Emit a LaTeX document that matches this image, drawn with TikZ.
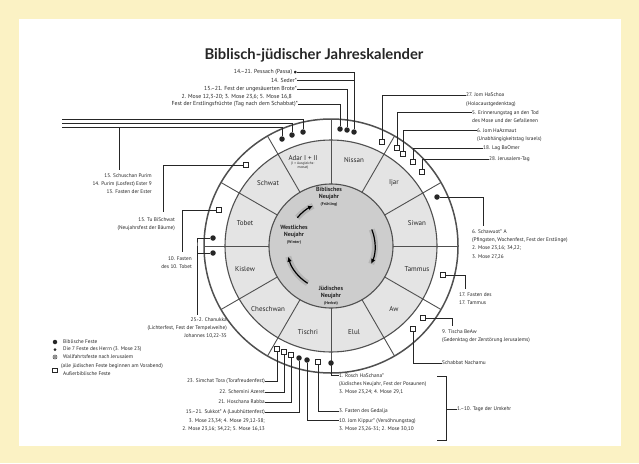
\documentclass[tikz,border=0pt]{standalone}
\usepackage{fontspec}
\setmainfont{PT Sans}
\newfontfamily\titlefont{Lato}
\newfontfamily\symfont{DejaVu Sans}
\usetikzlibrary{arrows.meta, positioning, calc}
\definecolor{paper}{HTML}{FBF2C4}
\definecolor{ink}{HTML}{262626}
\definecolor{ringline}{HTML}{505050}
\definecolor{monthfill}{HTML}{E4E4E4}
\definecolor{hubfill}{HTML}{CDCDCD}

\begin{document}
\begin{tikzpicture}[x=1pt, y=-1pt,
        lbl/.style={font=\fontsize{5.3}{8.2}\selectfont, text=ink, inner sep=0pt, align=left},
        lblr/.style={lbl, align=right},
        toplbl/.style={lblr, font=\fontsize{5.8}{8}\selectfont},
        month/.style={font=\fontsize{7}{8}\selectfont, text=ink, inner sep=0pt},
        hub/.style={font=\fontsize{6}{6.8}\selectfont\bfseries, text=ink, align=center, inner sep=0pt},
        feast/.style={circle, fill=ink, inner sep=0pt, minimum size=5.5pt},
        smallfeast/.style={circle, fill=ink, inner sep=0pt, minimum size=3.5pt},
        pilgrim/.style={circle, draw=ink, line width=0.5pt, inner sep=0pt, minimum size=4pt,
            path picture={\fill[ink] (path picture bounding box.center) circle (0.9pt);}},
        extra/.style={rectangle, draw=ink, fill=white, line width=0.6pt, inner sep=0pt, minimum size=4.8pt},
        lead/.style={draw=ink, line width=0.7pt},
        sector/.style={draw=ringline, line width=0.9pt},
        turn/.style={-{Latex[length=5pt, width=4.5pt]}, line width=1.2pt, black},
        turnshade/.style={line width=6pt, gray, opacity=0.3}
    ]

    % background
    \fill[paper] (0,0) rectangle (639,463);
    \fill[white] (19,19) rectangle (621,446);

    \node[font=\titlefont\fontsize{14.8}{15}\selectfont\bfseries, text=ink] (title) at (314,55) {Biblisch-jüdischer Jahreskalender};

    % calendar wheel
    \coordinate (c) at (331,246);
    \fill[white] (c) circle (127);
    \fill[monthfill] (c) circle (106);
    \fill[hubfill] (c) circle (62);
    \foreach \a in {0,30,...,330}
        \draw[sector] ($(c)+(\a:62)$) -- ($(c)+(\a:127)$);
    \draw[ringline, line width=1.5pt] (c) circle (127);
    \draw[ringline, line width=1.1pt] (c) circle (106) (c) circle (62);

    \foreach \m/\a in {Nissan/-75, Ijar/-45, Siwan/-15, Tammus/15, Aw/45, Elul/75,
                       Tischri/105, Cheschwan/135, Kislew/165, Tobet/-165, Schwat/-135}
        \node[month] at ($(c)+(\a:89)$) {\m};
    \node[month] (adar) at (303,158) {Adar I + II};
    \node[font=\fontsize{3.6}{4}\selectfont, text=ink, align=center, inner sep=0pt, below=1pt of adar] {(I = Ausgleichs-\\monat)};

    \node[hub] (bibny) at (329,197) {Biblisches\\Neujahr\\{\fontsize{4}{4.6}\selectfont(Frühling)}};
    \node[hub] (westny) at (294,235) {Westliches\\Neujahr\\{\fontsize{4}{4.6}\selectfont(Winter)}};
    \node[hub] (judny) at (331,296) {Jüdisches\\Neujahr\\{\fontsize{4}{4.6}\selectfont(Herbst)}};

    % turning arrows
    \draw[turnshade] ($(c)+(-22:44)$) arc[start angle=-22, end angle=24, radius=44];
    \draw[turn] ($(c)+(-22:44)$) arc[start angle=-22, end angle=24, radius=44];
    \draw[turnshade] ($(c)+(122:44)$) arc[start angle=122, end angle=166, radius=44];
    \draw[turn] ($(c)+(122:44)$) arc[start angle=122, end angle=166, radius=44];
    \draw[turnshade] ($(c)+(-140:44)$) arc[start angle=-140, end angle=-114, radius=44];
    \draw[turn] ($(c)+(-140:44)$) arc[start angle=-140, end angle=-114, radius=44];

    % markers in the outer band
    \node[feast] (erstl) at (340,129) {};
    \node[feast] (brote) at (347,130) {};
    \node[feast] (pessach) at (354,132) {};
    \node[extra] (schoa) at (382,142) {};
    \node[extra] (zikaron) at (397,148) {};
    \node[extra] (azmaut) at (403,154) {};
    \node[extra] (lag) at (413,162) {};
    \node[extra] (jerus) at (422,172) {};
    \node[feast] (schawuot) at (437,197) {};
    \node[extra] (tammus) at (443,275) {};
    \node[extra] (tischa) at (423,318) {};
    \node[extra] (nachamu) at (413,329) {};
    \node[feast] (rosch) at (331,363) {};
    \node[extra] (gedalja) at (318,362) {};
    \node[feast] (kippur) at (307,360) {};
    \node[feast] (sukkot) at (299,358) {};
    \node[extra] (hoschana) at (291,355) {};
    \node[extra] (schemini) at (284,352) {};
    \node[extra] (simchat) at (277,349) {};
    \node[feast] (chan1) at (213,253) {};
    \node[feast] (chan2) at (213,238) {};
    \node[extra] (tobetsq) at (219,210) {};
    \node[extra] (tubi) at (246,165) {};
    \node[feast] (purim1) at (282,139) {};
    \node[feast] (purim2) at (292,135) {};
    \node[feast] (purim3) at (303,132) {};

    % labels top
    \node[toplbl, anchor=east] (pessachlbl) at (297,72) {14.–21. Pessach (Passa) {\symfont\fontsize{3.5}{4}\selectfont●}};
    \node[toplbl, anchor=east] (sederlbl) at (297,80) {14. Seder*};
    \node[toplbl, anchor=east] (brotelbl) at (297,89) {15.–21. Fest der ungesäuerten Brote*};
    \node[toplbl, anchor=east] (brotenote) at (292,96.5) {2. Mose 12,3-20; 3. Mose 23,6; 5. Mose 16,8};
    \node[toplbl, anchor=east] (erstllbl) at (298,104) {Fest der Erstlingsfrüchte (Tag nach dem Schabbat)*};

    \node[lbl, anchor=north west] (schoalbl) at (466,93) {27. Jom HaSchoa\\(Holocaustgedenktag)};
    \node[lbl, anchor=north west] (zikaronlbl) at (472,110.5) {5. Erinnerungstag an den Tod\\des Mose und der Gefallenen};
    \node[lbl, anchor=north west] (azmautlbl) at (477,128.5) {6. Jom HaAzmaut\\(Unabhängigkeitstag Israels)};
    \node[lbl, anchor=west] (laglbl) at (483,148) {18. Lag BaOmer};
    \node[lbl, anchor=west] (juslbl) at (489,159) {28. Jerusalem-Tag};

    % labels right
    \node[lbl, anchor=north west] (schawuotlbl) at (472,229.5) {6. Schawuot* A\\(Pfingsten, Wochenfest, Fest der Erstlinge)\\2. Mose 23,16; 34,22;\\3. Mose 27,26};
    \node[lbl, anchor=north west] (tammuslbl) at (459,292.5) {17. Fasten des\\17. Tammus};
    \node[lbl, anchor=north west] (tischalbl) at (442,329.5) {9. Tischa BeAw\\(Gedenktag der Zerstörung Jerusalems)};
    \node[lbl, anchor=west] (nachamulbl) at (442,363) {Schabbat Nachamu};

    % labels bottom right
    \node[lbl, anchor=north west] (roschlbl) at (339,373.5) {1. Rosch HaSchana*\\(Jüdisches Neujahr, Fest der Posaunen)\\3. Mose 23,24; 4. Mose 29,1};
    \node[lbl, anchor=west] (gedaljalbl) at (339,411) {3. Fasten des Gedalja};
    \node[lbl, anchor=north west] (kippurlbl) at (339,418.5) {10. Jom Kippur* (Versöhnungstag)\\3. Mose 23,26-31; 2. Mose 30,10};
    \node[lbl, anchor=west] (umkehr) at (457,409) {1.–10. Tage der Umkehr};

    % labels bottom left
    \node[lblr, anchor=east] (simchatlbl) at (265,381) {23. Simchat Tora (Torafreudenfest)};
    \node[lblr, anchor=east] (scheminilbl) at (265,392) {22. Schemini Azeret};
    \node[lblr, anchor=east] (hoschanalbl) at (265,402) {21. Hoschana Rabba};
    \node[lblr, anchor=north east] (sukkotlbl) at (265,410) {15.–21. Sukkot* A (Laubhüttenfest)\\3. Mose 23,34; 4. Mose 29,12-38;\\2. Mose 23,16; 34,22; 5. Mose 16,13};

    % labels left
    \node[lblr, anchor=north east] (purimlbl) at (152,173.5) {15. Schuschan Purim\\14. Purim (Losfest) Ester 9\\13. Fasten der Ester};
    \node[lblr, anchor=north east] (tubilbl) at (175,217.5) {15. Tu BiSchwat\\(Neujahrsfest der Bäume)};
    \node[lblr, anchor=north east] (tobetlbl) at (192,256.5) {10. Fasten\\des 10. Tobet};
    \node[lblr, anchor=north east] (chanlbl) at (227,317.5) {25.-2. Chanukka\\(Lichterfest, Fest der Tempelweihe)\\Johannes 10,22-35};

    % legend
    \node[feast, minimum size=4.5pt] (legbib) at (55,342) {};
    \node[smallfeast, minimum size=3pt] (legseven) at (55,349.5) {};
    \node[pilgrim] (legpil) at (55,357) {};
    \node[extra, minimum size=4.5pt] (legextra) at (55,370.5) {};
    \node[lbl, anchor=west] at (63,342) {Biblische Feste};
    \node[lbl, anchor=west] at (63,349.5) {Die 7 Feste des Herrn (3. Mose 23)};
    \node[lbl, anchor=west] at (63,357) {Wallfahrtsfeste nach Jerusalem};
    \node[lbl, anchor=west] at (61,366) {(alle jüdischen Feste beginnen am Vorabend)};
    \node[lbl, anchor=west] at (63,374) {Außerbiblische Feste};

    % end points of the leaders
    \coordinate (purimtop) at (62,119);
    \coordinate (purimmid) at (62,123);
    \coordinate (purimlow) at (62,127);
    \coordinate (purimknee) at (119,127);
    \coordinate (purimend) at (119,170);
    \coordinate (tubiend) at (163,212);
    \coordinate (tobetend) at (182,252);
    \coordinate (chanbr) at (197,246);
    \coordinate (chanend) at (197,315);
    \coordinate (schawuotend) at (483,226);
    \coordinate (tammusend) at (465,289);
    \coordinate (tischaend) at (452,326);

    % leaders
    \draw[lead] (pessach) |- (pessachlbl.east);
    \draw[lead] (pessach |- sederlbl.east) -- (sederlbl.east);
    \draw[lead] (brote) |- (brotelbl.east);
    \draw[lead] (erstl) |- (erstllbl.east);
    \draw[lead] (purim3) |- (purimtop);
    \draw[lead] (purim2) |- (purimmid);
    \draw[lead] (purim1) |- (purimlow);
    \draw[lead] (purimknee) -- (purimend);

    \draw[lead] (schoa) |- ([yshift=-2pt]schoalbl.north west);
    \draw[lead] (zikaron) |- ([yshift=-2pt]zikaronlbl.north west);
    \draw[lead] (azmaut) |- ([yshift=-2pt]azmautlbl.north west);
    \draw[lead] (lag) |- (laglbl.west);
    \draw[lead] (jerus) |- (juslbl.west);
    \draw[lead] (schawuot) -| (schawuotend);
    \draw[lead] (tammus) -| (tammusend);
    \draw[lead] (tischa) -| (tischaend);
    \draw[lead] (nachamu) |- (nachamulbl.west);

    \draw[lead] (rosch) |- ([yshift=-2pt]roschlbl.north west);
    \draw[lead] (gedalja) |- (gedaljalbl.west);
    \draw[lead] (kippur) |- ([yshift=-2pt]kippurlbl.north west);
    \draw[lead] (437,376) -- (446,376) -- (446,440) -- (437,440);
    \draw[lead] (446,409) -- (umkehr.west);

    \draw[lead] (simchat) |- (simchatlbl.east);
    \draw[lead] (schemini) |- (scheminilbl.east);
    \draw[lead] (hoschana) |- (hoschanalbl.east);
    \draw[lead] (sukkot) |- ([yshift=-2pt]sukkotlbl.north east);

    \draw[lead] (tubi) -| (tubiend);
    \draw[lead] (tobetsq) -| (tobetend);
    \draw[lead] (chan2) -| (chanbr) |- (chan1);
    \draw[lead] (chanbr) -- (chanend);
\end{tikzpicture}
\end{document}
